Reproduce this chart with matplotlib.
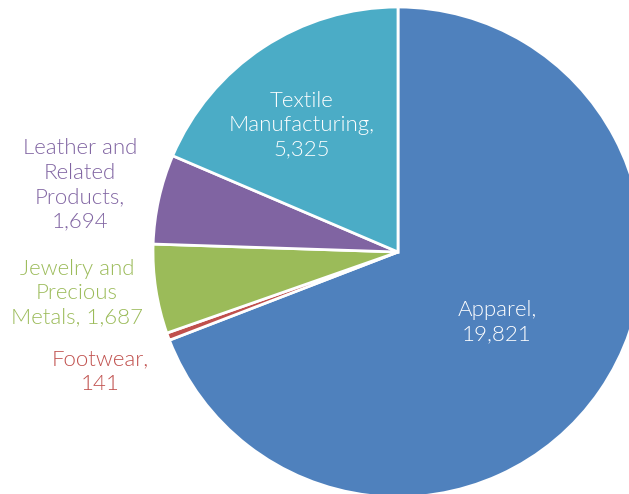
import matplotlib
matplotlib.use("Agg")
import matplotlib.pyplot as plt

# Data
categories = ["Apparel", "Footwear", "Jewelry and\nPrecious\nMetals", "Leather and\nRelated\nProducts", "Textile\nManufacturing"]
values = [19821, 141, 1687, 1694, 5325]
colors = ["#4F81BD", "#C0504D", "#9BBB59", "#8064A2", "#4BACC6"]

plt.rcParams['font.family'] = ['Lato', 'DejaVu Sans']

fig = plt.figure(figsize=(6.29, 4.94), dpi=100)
ax = fig.add_axes([0, 0, 1, 1])
ax.pie(values, colors=colors, startangle=90, counterclock=False,
       radius=1.0, wedgeprops=dict(edgecolor="white", linewidth=2))
ax.set_xlim(-398 / 245, (629 - 398) / 245)
ax.set_ylim(-(494 - 252) / 245, 252 / 245)
ax.set_aspect('auto')
ax.axis('off')

def px(x, y):
    return (x - 398) / 245, (252 - y) / 245

# Label text and placement
labels = [
    ("Apparel,\n19,821", (497, 322), "white"),
    ("Footwear,\n141", (100, 372), colors[1]),
    ("Jewelry and\nPrecious\nMetals, 1,687", (77, 293), colors[2]),
    ("Leather and\nRelated\nProducts,\n1,694", (80, 185), colors[3]),
    ("Textile\nManufacturing,\n5,325", (302, 125), "white"),
]
for txt, (x, y), c in labels:
    ax.text(*px(x, y), txt, ha="center", va="center", color=c,
            fontsize=16, fontweight=300, linespacing=1.28)

fig.savefig("out.png", dpi=100)
